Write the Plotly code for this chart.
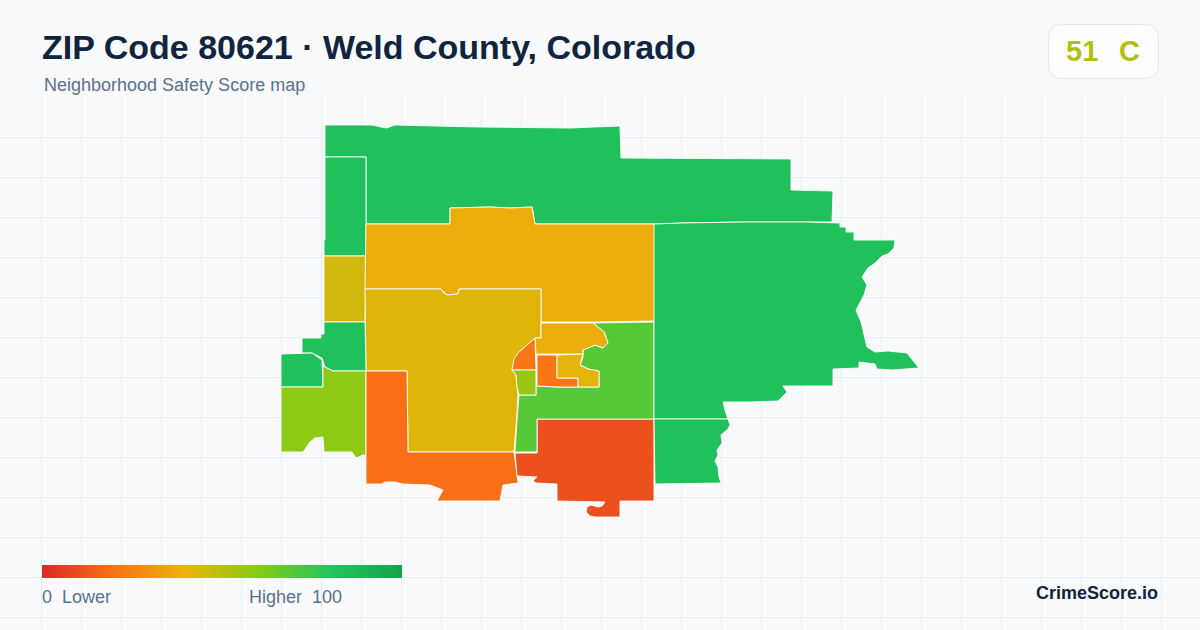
import plotly.graph_objects as go
from plotly.colors import sample_colorscale, hex_to_rgb

W, H, TOP = 1200, 630, 96

TITLE = "ZIP Code 80621 · Weld County, Colorado"
SUBTITLE = "Neighborhood Safety Score map"
BADGE_SCORE = 51
BADGE_GRADE = "C"
LEGEND_LOW = "0\u00a0\u00a0Lower"
LEGEND_HIGH = "Higher\u00a0\u00a0100"
BRAND = "CrimeScore.io"

SCALE_STOPS = [0, 0.2, 0.4, 0.6, 0.8, 1]
SCALE_COLORS = ["#dc2626", "#f97316", "#eab308", "#84cc16", "#22c55e", "#16a34a"]

# Neighborhood scores
north_score = 83
west_strip_score = 83
west_gold_score = 45
upper_band_score = 38
central_score = 42
west_mid_score = 83
far_west_score = 83
lime_west_score = 58
south_orange_score = 19
south_red_score = 11
mid_green_score = 69
upper_small_score = 38
wedge_score = 21
small_lime_score = 56
block_orange_score = 21
block_yellow_score = 41
east_score = 83
southeast_score = 83

# Boundaries as (x, y) map positions
north_shape = [(325,125),(372,125),(381,127),(387,128),(395,125),(428,126),(477,127),(570,128),(620,126),(621,158),(791,159),(791,190),(833,191),(832,222),(743,222),(683,223),(655,224),(535,224),(532,207),(510,208),(490,207),(450,208),(450,224),(366,224),(366,157),(325,157)]
west_strip_shape = [(325,157),(366,157),(366,256),(324,256),(324,240),(325,240)]
west_gold_shape = [(324,256),(366,256),(365,322),(324,322)]
upper_band_shape = [(366,224),(450,224),(450,208),(490,207),(510,208),(532,207),(535,224),(655,224),(655,321),(593,322),(541,322),(541,289),(520,289),(459,289),(458,294),(447,295),(441,289),(365,289)]
central_shape = [(365,289),(441,289),(443,292),(447,295),(458,294),(459,289),(520,289),(541,289),(541,338),(535,338),(518,353),(515,360),(512,370),(516,375),(518,395),(517,413),(514,452),(408,452),(407,371),(366,371)]
west_mid_shape = [(324,322),(365,322),(366,371),(333,371),(325,367),(322,358),(312,353),(302,353),(302,338),(321,338),(321,334),(324,334)]
far_west_shape = [(281,354),(312,353),(322,360),(323,387),(281,387)]
lime_west_shape = [(281,387),(323,387),(323,366),(333,371),(366,371),(366,455),(363,455),(356,458),(352,452),(324,452),(323,437),(315,438),(310,442),(303,452),(281,452)]
south_orange_shape = [(366,371),(407,371),(408,452),(514,452),(516,467),(518,483),(503,485),(500,501),(437,501),(443,490),(430,485),(403,484),(395,482),(385,482),(382,484),(366,484)]
south_red_shape = [(537,419),(654,419),(654,501),(620,501),(620,517),(596,517),(590,516),(586,512),(587,507),(591,505),(598,507),(602,506),(605,502),(557,501),(557,484),(536,483),(533,481),(537,477),(517,476),(515,453),(537,453)]
mid_green_shape = [(593,323),(654,322),(654,419),(537,419),(537,452),(515,452),(517,420),(519,395),(527,395),(536,395),(536,386),(558,387),(599,387),(599,371),(588,369),(580,365),(583,357),(583,350),(595,345),(603,348),(608,343),(604,332)]
upper_small_shape = [(541,323),(593,323),(604,332),(608,343),(603,348),(595,345),(583,350),(583,354),(536,354),(535,338),(541,338)]
wedge_shape = [(535,338),(536,370),(512,370),(514,359),(518,353)]
small_lime_shape = [(512,370),(536,370),(536,395),(527,395),(519,395),(517,387),(516,375)]
block_orange_shape = [(537,355),(557,355),(557,378),(578,378),(578,387),(558,387),(537,386)]
block_yellow_shape = [(557,355),(583,354),(580,365),(588,369),(599,371),(599,387),(578,387),(578,378),(557,378)]
east_shape = [(654,224),(683,223),(743,222),(807,222),(840,223),(840,227),(846,227),(846,232),(854,232),(854,240),(895,240),(894,248),(888,254),(882,256),(875,263),(868,268),(862,277),(867,285),(864,295),(856,310),(861,322),(867,347),(875,352),(888,351),(907,353),(913,360),(919,368),(892,370),(877,369),(875,364),(867,363),(859,362),(859,368),(833,369),(833,386),(783,386),(787,392),(778,401),(750,402),(723,402),(725,410),(728,419),(654,419)]
southeast_shape = [(654,419),(728,419),(730,425),(728,429),(721,435),(722,443),(717,450),(718,455),(715,461),(718,467),(719,477),(721,483),(655,484)]

REGIONS = [
    ("North", north_shape, north_score),
    ("West strip", west_strip_shape, west_strip_score),
    ("West gold", west_gold_shape, west_gold_score),
    ("Upper band", upper_band_shape, upper_band_score),
    ("Central", central_shape, central_score),
    ("West mid", west_mid_shape, west_mid_score),
    ("Far west", far_west_shape, far_west_score),
    ("Lime west", lime_west_shape, lime_west_score),
    ("South orange", south_orange_shape, south_orange_score),
    ("South red", south_red_shape, south_red_score),
    ("Mid green", mid_green_shape, mid_green_score),
    ("Upper small", upper_small_shape, upper_small_score),
    ("Wedge", wedge_shape, wedge_score),
    ("Small lime", small_lime_shape, small_lime_score),
    ("Block orange", block_orange_shape, block_orange_score),
    ("Block yellow", block_yellow_shape, block_yellow_score),
    ("East", east_shape, east_score),
    ("Southeast", southeast_shape, southeast_score),
]

colorscale = [[s, "rgb" + str(tuple(hex_to_rgb(c)))] for s, c in zip(SCALE_STOPS, SCALE_COLORS)]


def score_color(v):
    return sample_colorscale(colorscale, [v / 100], colortype="rgb")[0]


def px(x):
    return x / W


def py(y):
    return (H - y) / (H - TOP)


fig = go.Figure()
for name, shape, score in REGIONS:
    xs = [p[0] for p in shape] + [shape[0][0]]
    ys = [p[1] for p in shape] + [shape[0][1]]
    fig.add_trace(go.Scatter(x=xs, y=ys, mode="lines", fill="toself", name=name,
                             fillcolor=score_color(score),
                             line=dict(color="#ffffff", width=0.9),
                             hoverinfo="text", text=f"{name}: {score}"))

# colour key
fig.add_trace(go.Scatter(
    x=[-100, -100], y=[-100, -100], mode="markers", showlegend=False, hoverinfo="skip",
    marker=dict(color=[0, 100], cmin=0, cmax=100, colorscale=colorscale, showscale=True,
                colorbar=dict(orientation="h", xref="paper", yref="paper",
                              x=px(42), xanchor="left", y=py(578), yanchor="bottom",
                              lenmode="pixels", len=360, thickness=13,
                              thicknessmode="pixels", outlinewidth=0, borderwidth=0,
                              xpad=0, ypad=0, ticks="", showticklabels=False))))


def text(x, y, s, size, color, bold=False, anchor="left"):
    fig.add_annotation(xref="paper", yref="paper", x=px(x), y=py(y), text=s, showarrow=False,
                       xanchor=anchor, yanchor="middle", borderpad=0, borderwidth=0,
                       font=dict(family="Liberation Sans", size=size, color=color,
                                 weight="bold" if bold else "normal"))


INK = "#10243e"
MUTED = "#5b708f"
text(42, 47, TITLE, 34, INK, True)
text(44, 85, SUBTITLE, 18, MUTED)
text(42, 597, LEGEND_LOW, 18, MUTED)
text(249, 597, LEGEND_HIGH, 18, MUTED)
text(1158, 593, BRAND, 18, INK, True, "right")
text(1066, 51, str(BADGE_SCORE), 29, score_color(BADGE_SCORE), True)
text(1119, 51, BADGE_GRADE, 29, score_color(BADGE_SCORE), True)

# score badge outline
x0, x1, y0, y1, r = 1048.5, 1158.5, 24.5, 78.5, 14
badge_path = (f"M {px(x0 + r)} {py(y0)} L {px(x1 - r)} {py(y0)} "
              f"Q {px(x1)} {py(y0)} {px(x1)} {py(y0 + r)} L {px(x1)} {py(y1 - r)} "
              f"Q {px(x1)} {py(y1)} {px(x1 - r)} {py(y1)} L {px(x0 + r)} {py(y1)} "
              f"Q {px(x0)} {py(y1)} {px(x0)} {py(y1 - r)} L {px(x0)} {py(y0 + r)} "
              f"Q {px(x0)} {py(y0)} {px(x0 + r)} {py(y0)} Z")
fig.add_shape(type="path", xref="paper", yref="paper", path=badge_path,
              fillcolor="#fdfeff", line=dict(color="#e2e8f0", width=1), layer="below")

fig.update_layout(
    width=W, height=H, autosize=False, showlegend=False,
    margin=dict(l=0, r=0, t=TOP, b=0, pad=0),
    paper_bgcolor="#f8fafc", plot_bgcolor="#f8fafc",
    xaxis=dict(range=[0, W], tick0=1, dtick=40, showgrid=True, gridcolor="#e6eef3", gridwidth=1.2,
               zeroline=False, showline=False, ticks="", showticklabels=False, fixedrange=True),
    yaxis=dict(range=[H, TOP], tick0=97, dtick=40, showgrid=True, gridcolor="#e6eef3", gridwidth=1.2,
               zeroline=False, showline=False, ticks="", showticklabels=False, fixedrange=True),
)
fig.write_html("out.html", config={"displayModeBar": False},
               post_script="document.body.style.margin='0';document.body.style.background='#f8fafc';")
